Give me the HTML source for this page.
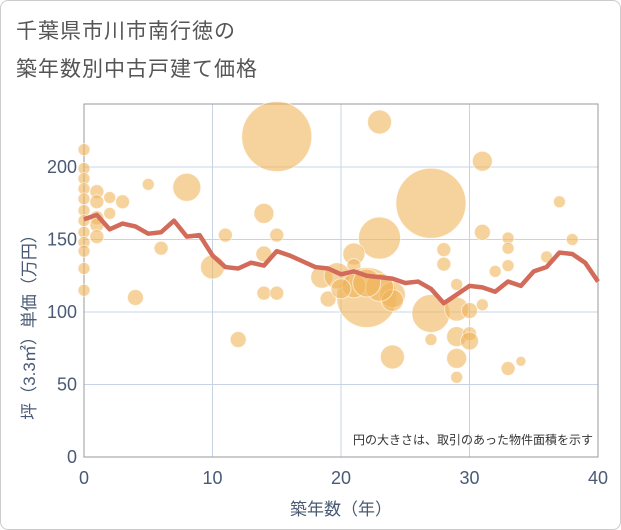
<!DOCTYPE html>
<html><head><meta charset="utf-8">
<style>
body{margin:0;background:#fff;}
#wrap{position:relative;width:619px;height:528px;border:1px solid #ccc;border-radius:8px;overflow:hidden;font-family:"Liberation Sans","Noto Sans CJK JP",sans-serif;}
.title{position:absolute;left:15px;font-size:21px;color:#555;letter-spacing:1px;}
</style></head>
<body>
<div id="wrap">
<div class="title" style="top:14px">千葉県市川市南行徳の</div>
<div class="title" style="top:52px">築年数別中古戸建て価格</div>
<svg id="chart" width="621" height="530" style="position:absolute;left:0;top:0"></svg>
</div>
<script>
const xTicks=[0,10,20,30,40];
const yTicks=[0,50,100,150,200];
const lineYears=[0,1,2,3,4,5,6,7,8,9,10,11,12,13,14,15,16,17,18,19,20,21,22,23,24,25,26,27,28,29,30,31,32,33,34,35,36,37,38,39,40];
const lineValues=[164,167,157,161,159,154,155,163,152,153,139,131,130,134,132,142,139,135,131,130,126,128,125,124,123,120,121,116,106,112,118,117,114,121,118,128,131,141,140,134,121];
const bubbleX=[0,0,0,0,0,0,0,0,0,0,0,0,1,1,1,1,1,2,3,2,5,8,6,4,10,12,15,14,11,15,14,14,15,18.5,19,23,31,27,23,21,21,22,19.7,24,24,27,27,28,28,29,29,30,31,29,30,30,29,29,31,32,33,33,33,33,34,36,37,38,24,23,21,22,20];
const bubbleY=[212,199,192,185,178,170,163,155,148,142,130,115,183,176,165,160,152,179,176,168,188,186,144,110,131,81,221,168,153,153,140,113,113,124,109,231,204,175,151,140,132,110,125,112,69,99,81,143,133,119,102,101,105,83,85,80,68,55,155,128,151,144,132,61,66,138,176,150,108,117,118,120,116];
const bubbleR=[6,6,6,6,6,6,6,6,6,6,6,6,7,7,7,7,7,6,7,6,6,14,7,8,12,8,35,10,7,7,8,7,7,11,8,12,10,35,21,11,7,30,13,13,12,19,6,7,7,6,12,8,6,10,7,9,10,6,8,6,6,6,6,7,5,6,6,6,11,14,12,14,10];
const NS="http://www.w3.org/2000/svg";
const svg=document.getElementById('chart');
const L=83,R=597,T=103,B=456;
const sx=v=>L+v*(R-L)/40;
const sy=v=>B-v*(B-166)/200;
function mk(t,a){const e=document.createElementNS(NS,t);for(const k in a)e.setAttribute(k,a[k]);svg.appendChild(e);return e;}
for(const t of xTicks){
 const g=mk('line',{x1:sx(t),x2:sx(t),y1:T,y2:B,stroke:'#c8d4e6','stroke-width':1});
 
 
 const tx=mk('text',{x:sx(t),y:483,'text-anchor':'middle','font-size':18,fill:'#4a5a75'});tx.textContent=t;
 
 
}
for(const t of yTicks){
 const g=mk('line',{x1:L,x2:R,y1:sy(t),y2:sy(t),stroke:'#c8d4e6','stroke-width':1});
 
 
 const tx=mk('text',{x:76,y:sy(t)+6,'text-anchor':'end','font-size':18,fill:'#4a5a75'});tx.textContent=t;
 
 
}
const fr=mk('rect',{x:L,y:T,width:R-L,height:B-T,fill:'none',stroke:'#999','stroke-width':1});


for(let i=0;i<bubbleX.length;i++){
 const c=mk('circle',{cx:sx(bubbleX[i]),cy:sy(bubbleY[i]),r:bubbleR[i],fill:'rgba(240,180,90,0.6)',stroke:'rgba(255,255,255,0.6)','stroke-width':1});
 
 
}
const pl=mk('polyline',{points:lineYears.map((y,i)=>sx(y)+','+sy(lineValues[i])).join(' '),fill:'none',stroke:'#d36b5a','stroke-width':4.5,'stroke-linejoin':'round'});


const note=mk('text',{x:592,y:443,'text-anchor':'end','font-size':12,fill:'#333'});note.textContent='円の大きさは、取引のあった物件面積を示す';


const xt=mk('text',{x:340,y:514,'text-anchor':'middle','font-size':17,fill:'#4a5a75'});xt.textContent='築年数（年）';


const yt=mk('text',{x:0,y:0,'text-anchor':'middle','font-size':17,fill:'#4a5a75',transform:'translate(34,322) rotate(-90)'});yt.textContent='坪（3.3㎡）単価（万円）';


</script>
</body></html>
